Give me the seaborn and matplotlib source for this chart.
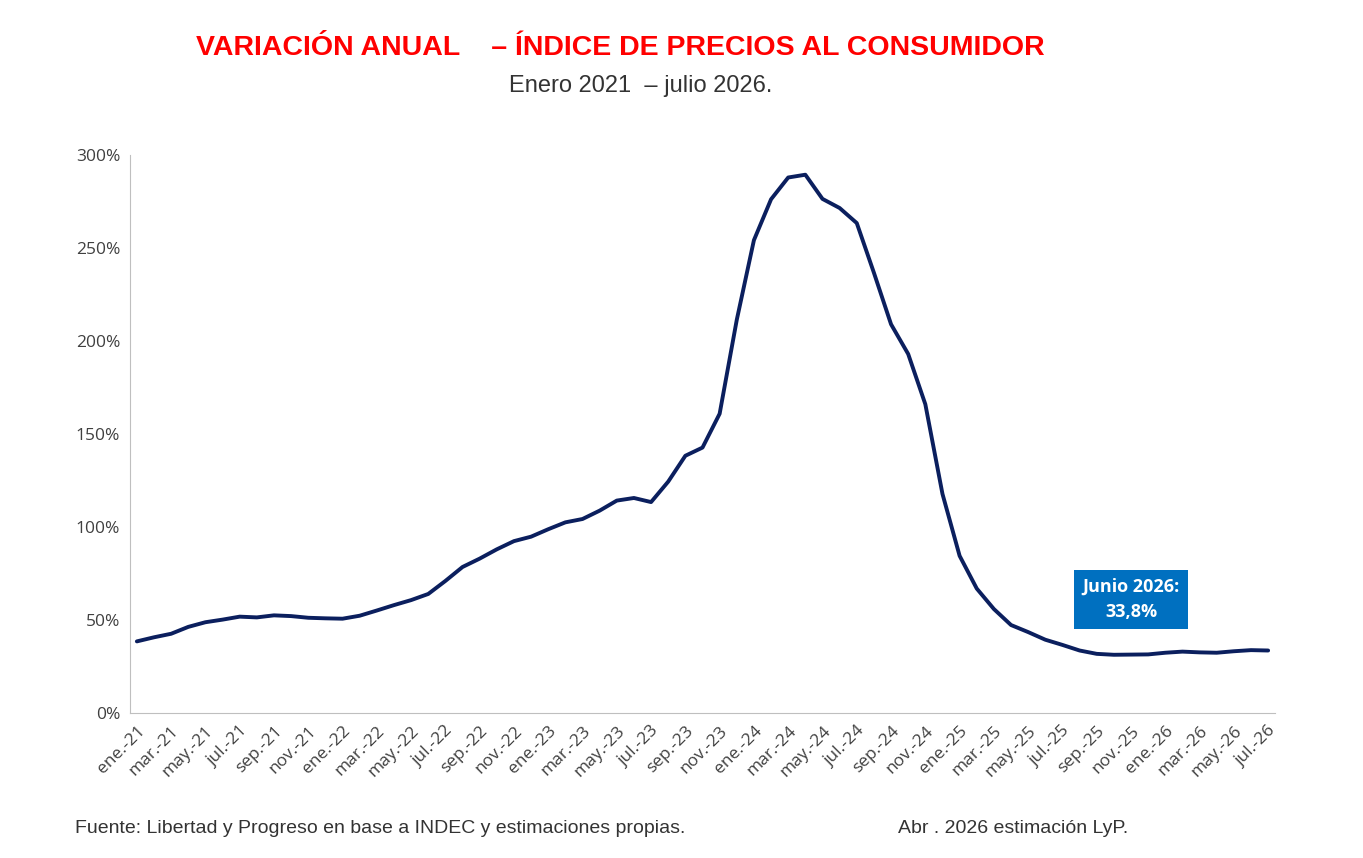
import matplotlib
matplotlib.use('Agg')
import matplotlib.pyplot as plt
import matplotlib.ticker as mtick
import seaborn as sns
import pandas as pd

# Variación anual del IPC (%), ene-21 a jul-26
meses = ['ene', 'feb', 'mar', 'abr', 'may', 'jun', 'jul', 'ago', 'sep', 'oct', 'nov', 'dic']
valores = [
    38.5, 40.7, 42.6, 46.3, 48.8, 50.2, 51.8, 51.4, 52.5, 52.1, 51.2, 50.9,   # 2021
    50.7, 52.3, 55.1, 58.0, 60.7, 64.0, 71.0, 78.5, 83.0, 88.0, 92.4, 94.8,   # 2022
    98.8, 102.5, 104.3, 108.8, 114.2, 115.6, 113.4, 124.4, 138.3, 142.7, 160.9, 211.4,  # 2023
    254.2, 276.2, 287.9, 289.4, 276.4, 271.5, 263.4, 236.7, 209.0, 193.0, 166.0, 117.8,  # 2024
    84.5, 66.9, 55.9, 47.3, 43.5, 39.4, 36.6, 33.6, 31.8, 31.3, 31.4, 31.5,   # 2025
    32.4, 33.0, 32.6, 32.4, 33.2, 33.8, 33.6,                                 # 2026
]
etiquetas = [f'{meses[i % 12]}.-{21 + i // 12}' for i in range(len(valores))]

df = pd.DataFrame({'x': range(len(valores)), 'ipc': valores})

sns.set_style('white')
plt.rcParams['font.family'] = ['Liberation Sans', 'DejaVu Sans']

fig = plt.figure(figsize=(13.63, 8.58), dpi=100)
ax = fig.add_axes([130 / 1363, 1 - 713 / 858, (1275 - 130) / 1363, (713 - 155) / 858])

sns.lineplot(data=df, x='x', y='ipc', ax=ax, color='#0b1f5e', linewidth=2.8)

ax.set_ylim(0, 300)
ax.set_xlim(-0.4, len(valores) - 0.6)
ax.yaxis.set_major_formatter(mtick.FuncFormatter(lambda v, p: f'{v:.0f}%'))
ax.set_yticks(range(0, 301, 50))
ax.set_xticks(range(0, len(valores), 2))
ax.set_xticklabels(etiquetas[::2], rotation=45, ha='right', rotation_mode='anchor')
ax.tick_params(axis='both', labelsize=13, colors='#404040')
for lbl in ax.get_xticklabels() + ax.get_yticklabels():
    lbl.set_family(['Open Sans', 'DejaVu Sans'])
    lbl.set_fontsize(12.5)
ax.set_xlabel('')
ax.set_ylabel('')
for s in ['top', 'right']:
    ax.spines[s].set_visible(False)
for s in ['left', 'bottom']:
    ax.spines[s].set_color('#bfbfbf')

ax.text(58, 61, 'Junio 2026:\n33,8%', ha='center', va='center', color='white',
        fontsize=13, fontweight='bold', linespacing=1.5, family=['Open Sans', 'DejaVu Sans'],
        bbox=dict(boxstyle='square,pad=0.45', fc='#0070c0', ec='none'))

fig.text(0.455, 0.944, 'VARIACIÓN ANUAL    – ÍNDICE DE PRECIOS AL CONSUMIDOR',
         ha='center', va='center', color='#ff0000', fontsize=20.5, fontweight='bold')
fig.text(0.470, 0.900, 'Enero 2021  – julio 2026.', ha='center', va='center',
         color='#333333', fontsize=17)
fig.text(0.055, 0.034, 'Fuente: Libertad y Progreso en base a INDEC y estimaciones propias.',
         ha='left', va='center', color='#333333', fontsize=14)
fig.text(0.659, 0.034, 'Abr . 2026 estimación LyP.', ha='left', va='center',
         color='#333333', fontsize=14)

plt.savefig('out.png', dpi=100)
